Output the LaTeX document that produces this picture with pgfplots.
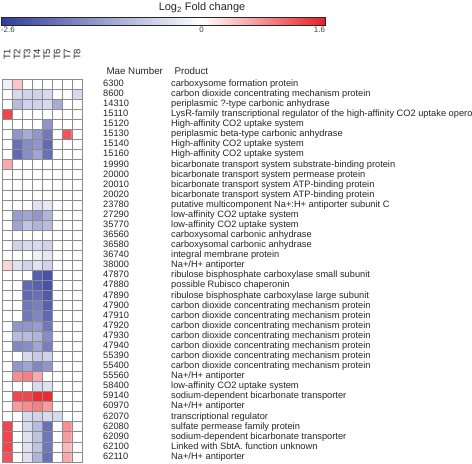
\documentclass[border=0pt]{standalone}
\usepackage{fontspec}
\setmainfont{Liberation Sans}
\usepackage{pgfplots}
\pgfplotsset{compat=1.18}
\newcommand{\R}[2]{\makebox[68bp][l]{#1}#2}
\begin{document}
\begin{tikzpicture}
\path[use as bounding box] (0,0) rectangle (472bp,-464bp);
\node[font=\fontsize{11}{12}\selectfont, text=black!85] at (202bp,-8bp) {Log\textsubscript{2} Fold change};
\node[anchor=base west, font=\fontsize{9.8}{11}\selectfont, text=black!85] at (103bp,-74bp) {Mae Number};
\node[anchor=base west, font=\fontsize{9.8}{11}\selectfont, text=black!85] at (171bp,-74bp) {Product};
\begin{axis}[
  at={(2bp,-79bp)}, anchor=north west,
  scale only axis, width=80bp, height=383bp,
  xmin=0.5, xmax=8.5, ymin=0.5, ymax=38.5, y dir=reverse,
  axis on top,
  axis line style={draw=gray!90, line width=0.7pt},
  xtick={1,...,8}, xticklabels={T1,T2,T3,T4,T5,T6,T7,T8},
  xticklabel pos=upper,
  xticklabel style={rotate=90, anchor=west, inner sep=0pt, font=\fontsize{9.5}{10}\selectfont, text=black!85},
  xticklabel shift=19bp,
  ytick={1,...,38},
  yticklabels={
    \R{6300}{carboxysome formation protein},
    \R{8600}{carbon dioxide concentrating mechanism protein},
    \R{14310}{periplasmic ?-type carbonic anhydrase},
    \R{15110}{LysR-family transcriptional regulator of the high-affinity CO2 uptake opero},
    \R{15120}{High-affinity CO2 uptake system},
    \R{15130}{periplasmic beta-type carbonic anhydrase},
    \R{15140}{High-affinity CO2 uptake system},
    \R{15160}{High-affinity CO2 uptake system},
    \R{19990}{bicarbonate transport system substrate-binding protein},
    \R{20000}{bicarbonate transport system permease protein},
    \R{20010}{bicarbonate transport system ATP-binding protein},
    \R{20020}{bicarbonate transport system ATP-binding protein},
    \R{23780}{putative multicomponent Na+:H+ antiporter subunit C},
    \R{27290}{low-affinity CO2 uptake system},
    \R{35770}{low-affinity CO2 uptake system},
    \R{36560}{carboxysomal carbonic anhydrase},
    \R{36580}{carboxysomal carbonic anhydrase},
    \R{36740}{integral membrane protein},
    \R{38000}{Na+/H+ antiporter},
    \R{47870}{ribulose bisphosphate carboxylase small subunit},
    \R{47880}{possible Rubisco chaperonin},
    \R{47890}{ribulose bisphosphate carboxylase large subunit},
    \R{47900}{carbon dioxide concentrating mechanism protein},
    \R{47910}{carbon dioxide concentrating mechanism protein},
    \R{47920}{carbon dioxide concentrating mechanism protein},
    \R{47930}{carbon dioxide concentrating mechanism protein},
    \R{47940}{carbon dioxide concentrating mechanism protein},
    \R{55390}{carbon dioxide concentrating mechanism protein},
    \R{55400}{carbon dioxide concentrating mechanism protein},
    \R{55560}{Na+/H+ antiporter},
    \R{58400}{low-affinity CO2 uptake system},
    \R{59140}{sodium-dependent bicarbonate transporter},
    \R{60970}{Na+/H+ antiporter},
    \R{62070}{transcriptional regulator},
    \R{62080}{sulfate permease family protein},
    \R{62090}{sodium-dependent bicarbonate transporter},
    \R{62100}{Linked with SbtA. function unknown},
    \R{62110}{Na+/H+ antiporter}},
  yticklabel pos=right,
  yticklabel style={anchor=west, inner sep=0pt, text height=6.5bp, text depth=1.8bp, font=\fontsize{9.3}{10}\selectfont, text=black!85},
  yticklabel shift=21bp,
  major tick length=0pt, minor tick length=0pt,
  minor xtick={1.5,2.5,...,7.5}, minor ytick={1.5,2.5,...,37.5},
  xminorgrids, yminorgrids,
  minor grid style={draw=gray!90, line width=0.7pt},
  colormap={lfc}{rgb255(0pt)=(48,60,155) rgb255(26pt)=(255,255,255) rgb255(42pt)=(235,28,36)},
  point meta min=-2.6, point meta max=1.6,
  colorbar horizontal,
  colorbar style={at={(parent axis.north west)}, anchor=south west, xshift=-1bp, yshift=62bp,
    scale only axis, width=324bp, height=8bp,
    xtick={-2.6,0,1.6},
    xticklabels={\makebox[0pt][l]{-2.6},0,\makebox[0pt][r]{1.6}},
    xticklabel pos=lower, major tick length=0pt,
    xticklabel style={font=\fontsize{8}{9}\selectfont, text=black!75, inner sep=1.5bp},
    axis line style={draw=black!85, line width=0.8pt}},
]
\addplot[matrix plot*, mesh/cols=8, point meta=explicit] table[row sep=\\, meta=c]{
x y c\\
1 1 -0.2\\ 2 1 0.4\\ 3 1 0\\ 4 1 0\\ 5 1 0\\ 6 1 0\\ 7 1 0\\ 8 1 0\\
1 2 0\\ 2 2 -0.5\\ 3 2 -0.6\\ 4 2 -0.6\\ 5 2 -0.5\\ 6 2 0\\ 7 2 0\\ 8 2 -0.5\\
1 3 0\\ 2 3 -0.9\\ 3 3 -0.6\\ 4 3 -0.6\\ 5 3 -0.5\\ 6 3 -1.1\\ 7 3 0\\ 8 3 0\\
1 4 1.3\\ 2 4 0\\ 3 4 0\\ 4 4 0\\ 5 4 0\\ 6 4 0\\ 7 4 0\\ 8 4 0\\
1 5 0\\ 2 5 0\\ 3 5 0\\ 4 5 0\\ 5 5 -1.4\\ 6 5 0\\ 7 5 0\\ 8 5 0\\
1 6 0\\ 2 6 -1.4\\ 3 6 -1.1\\ 4 6 -1.4\\ 5 6 -1.8\\ 6 6 0\\ 7 6 1.2\\ 8 6 0\\
1 7 0\\ 2 7 -1.9\\ 3 7 -1.5\\ 4 7 -1.4\\ 5 7 -2.0\\ 6 7 0\\ 7 7 0\\ 8 7 0\\
1 8 0\\ 2 8 -2.0\\ 3 8 -1.5\\ 4 8 -1.2\\ 5 8 -1.9\\ 6 8 0\\ 7 8 0\\ 8 8 0\\
1 9 0.6\\ 2 9 0\\ 3 9 0\\ 4 9 0\\ 5 9 0\\ 6 9 0\\ 7 9 0\\ 8 9 0\\
1 10 0\\ 2 10 0\\ 3 10 0\\ 4 10 0\\ 5 10 0\\ 6 10 0\\ 7 10 0\\ 8 10 0\\
1 11 0\\ 2 11 0\\ 3 11 0\\ 4 11 0\\ 5 11 0\\ 6 11 0\\ 7 11 0\\ 8 11 0\\
1 12 0\\ 2 12 0\\ 3 12 0\\ 4 12 0\\ 5 12 0\\ 6 12 0\\ 7 12 0\\ 8 12 0\\
1 13 0\\ 2 13 0\\ 3 13 0\\ 4 13 -0.4\\ 5 13 -0.3\\ 6 13 0\\ 7 13 0\\ 8 13 0\\
1 14 0\\ 2 14 -1.3\\ 3 14 -1.2\\ 4 14 -1.4\\ 5 14 -1.0\\ 6 14 0\\ 7 14 0\\ 8 14 0\\
1 15 0\\ 2 15 -1.2\\ 3 15 -0.8\\ 4 15 -1.0\\ 5 15 -0.9\\ 6 15 0\\ 7 15 0\\ 8 15 0\\
1 16 0\\ 2 16 0\\ 3 16 0\\ 4 16 0\\ 5 16 0\\ 6 16 0\\ 7 16 0\\ 8 16 0\\
1 17 0\\ 2 17 -0.6\\ 3 17 -0.5\\ 4 17 -0.5\\ 5 17 -0.6\\ 6 17 0\\ 7 17 0\\ 8 17 0\\
1 18 0\\ 2 18 0\\ 3 18 0\\ 4 18 -0.2\\ 5 18 -0.3\\ 6 18 0\\ 7 18 0\\ 8 18 0\\
1 19 0.3\\ 2 19 -0.4\\ 3 19 -0.6\\ 4 19 -0.4\\ 5 19 -0.6\\ 6 19 0\\ 7 19 0\\ 8 19 0\\
1 20 0\\ 2 20 0\\ 3 20 0\\ 4 20 -2.1\\ 5 20 -2.3\\ 6 20 0\\ 7 20 0\\ 8 20 0\\
1 21 0\\ 2 21 0\\ 3 21 -2.0\\ 4 21 -2.1\\ 5 21 -2.3\\ 6 21 0\\ 7 21 0\\ 8 21 0\\
1 22 0\\ 2 22 0\\ 3 22 -2.0\\ 4 22 -1.9\\ 5 22 -2.2\\ 6 22 0\\ 7 22 0\\ 8 22 0\\
1 23 0\\ 2 23 0\\ 3 23 -1.8\\ 4 23 -1.7\\ 5 23 -2.1\\ 6 23 0\\ 7 23 0\\ 8 23 0\\
1 24 0\\ 2 24 0\\ 3 24 -1.8\\ 4 24 -1.6\\ 5 24 -2.0\\ 6 24 0\\ 7 24 0\\ 8 24 0\\
1 25 0\\ 2 25 -1.4\\ 3 25 -1.4\\ 4 25 -1.3\\ 5 25 -1.8\\ 6 25 0\\ 7 25 0\\ 8 25 0\\
1 26 0\\ 2 26 -0.9\\ 3 26 -0.9\\ 4 26 -1.0\\ 5 26 -1.5\\ 6 26 0\\ 7 26 0\\ 8 26 0\\
1 27 0\\ 2 27 -1.6\\ 3 27 -1.5\\ 4 27 -1.2\\ 5 27 -1.7\\ 6 27 0\\ 7 27 0\\ 8 27 0\\
1 28 0\\ 2 28 0\\ 3 28 -0.5\\ 4 28 -0.7\\ 5 28 -0.6\\ 6 28 0\\ 7 28 0\\ 8 28 0\\
1 29 0\\ 2 29 -1.4\\ 3 29 -1.2\\ 4 29 -1.6\\ 5 29 -1.4\\ 6 29 0\\ 7 29 0\\ 8 29 0\\
1 30 0\\ 2 30 0.8\\ 3 30 0.9\\ 4 30 0.6\\ 5 30 0\\ 6 30 0\\ 7 30 0\\ 8 30 0\\
1 31 0\\ 2 31 0\\ 3 31 0\\ 4 31 -0.5\\ 5 31 -0.4\\ 6 31 0\\ 7 31 0\\ 8 31 0\\
1 32 0\\ 2 32 1.3\\ 3 32 1.3\\ 4 32 1.5\\ 5 32 1.5\\ 6 32 0\\ 7 32 0\\ 8 32 0\\
1 33 0\\ 2 33 0.7\\ 3 33 0.8\\ 4 33 0.9\\ 5 33 0.7\\ 6 33 0\\ 7 33 0\\ 8 33 0\\
1 34 0\\ 2 34 0\\ 3 34 -0.5\\ 4 34 -0.6\\ 5 34 -0.5\\ 6 34 -0.5\\ 7 34 0\\ 8 34 0\\
1 35 1.3\\ 2 35 0\\ 3 35 -0.5\\ 4 35 -0.9\\ 5 35 -1.9\\ 6 35 0\\ 7 35 0.8\\ 8 35 0\\
1 36 1.3\\ 2 36 0\\ 3 36 -0.4\\ 4 36 -0.8\\ 5 36 -1.8\\ 6 36 0\\ 7 36 0.7\\ 8 36 0\\
1 37 1.3\\ 2 37 0\\ 3 37 -0.4\\ 4 37 -0.8\\ 5 37 -1.8\\ 6 37 0\\ 7 37 0.5\\ 8 37 0\\
1 38 1.2\\ 2 38 0\\ 3 38 -0.4\\ 4 38 -1.0\\ 5 38 -1.9\\ 6 38 0\\ 7 38 0.6\\ 8 38 0\\
};
\end{axis}
\end{tikzpicture}
\end{document}
